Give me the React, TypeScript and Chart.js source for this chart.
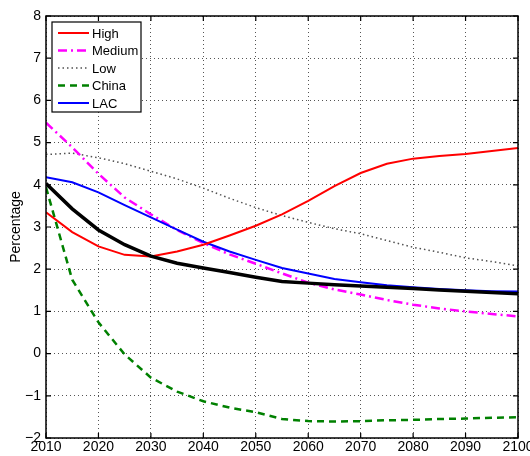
import React, { useEffect, useRef } from 'react';
import { Chart, registerables } from 'chart.js';

Chart.register(...registerables);

const years = [2010, 2015, 2020, 2025, 2030, 2035, 2040, 2045, 2050, 2055, 2060, 2065, 2070, 2075, 2080, 2085, 2090, 2095, 2100];
const high = [3.35, 2.88, 2.54, 2.34, 2.3, 2.42, 2.58, 2.8, 3.03, 3.3, 3.62, 3.97, 4.28, 4.5, 4.62, 4.68, 4.73, 4.8, 4.87];
const medium = [5.47, 4.89, 4.26, 3.7, 3.3, 2.93, 2.62, 2.35, 2.13, 1.9, 1.68, 1.52, 1.4, 1.27, 1.16, 1.07, 1.0, 0.94, 0.88];
const low = [4.72, 4.75, 4.64, 4.5, 4.32, 4.14, 3.92, 3.68, 3.46, 3.27, 3.11, 2.96, 2.84, 2.68, 2.52, 2.4, 2.27, 2.18, 2.08];
const china = [3.94, 1.75, 0.74, -0.02, -0.57, -0.9, -1.13, -1.28, -1.39, -1.55, -1.6, -1.61, -1.6, -1.58, -1.57, -1.55, -1.54, -1.52, -1.51];
const lac = [4.18, 4.06, 3.82, 3.52, 3.23, 2.94, 2.65, 2.42, 2.22, 2.03, 1.9, 1.77, 1.69, 1.62, 1.57, 1.53, 1.5, 1.48, 1.47];
const average = [4.03, 3.43, 2.93, 2.58, 2.31, 2.14, 2.03, 1.92, 1.81, 1.71, 1.67, 1.63, 1.6, 1.57, 1.54, 1.51, 1.48, 1.45, 1.42];

const xTickValues = [2010, 2020, 2030, 2040, 2050, 2060, 2070, 2080, 2090, 2100];
const yTickValues = [-2, -1, 0, 1, 2, 3, 4, 5, 6, 7, 8];
const legendLabels = ['High', 'Medium', 'Low', 'China', 'LAC'];
const yTitle = 'Percentage';

const FONT = "'Liberation Sans', Arial, Helvetica, sans-serif";

const toPoints = (vals: number[]) => vals.map((v, i) => ({ x: years[i], y: v }));

const framePlugin = {
  id: 'matlabFrame',
  afterDatasetsDraw(chart: any) {
    const { ctx, chartArea, scales } = chart;
    const { left, right, top, bottom } = chartArea;
    const xs = scales.x;
    const ys = scales.y;
    ctx.save();
    ctx.strokeStyle = '#000';
    ctx.lineWidth = 1.5;
    ctx.setLineDash([]);
    ctx.strokeRect(left, top, right - left, bottom - top);
    ctx.lineWidth = 1.2;
    const tl = 5;
    ctx.beginPath();
    xTickValues.forEach((v) => {
      const px = xs.getPixelForValue(v);
      ctx.moveTo(px, bottom);
      ctx.lineTo(px, bottom - tl);
      ctx.moveTo(px, top);
      ctx.lineTo(px, top + tl);
    });
    yTickValues.forEach((v) => {
      const py = ys.getPixelForValue(v);
      ctx.moveTo(left, py);
      ctx.lineTo(left + tl, py);
      ctx.moveTo(right, py);
      ctx.lineTo(right - tl, py);
    });
    ctx.stroke();

    // legend
    const bx = left + 6;
    const by = top + 6;
    const bw = 89;
    const bh = 90;
    ctx.fillStyle = '#fff';
    ctx.fillRect(bx, by, bw, bh);
    ctx.lineWidth = 1.2;
    ctx.strokeStyle = '#000';
    ctx.strokeRect(bx, by, bw, bh);
    ctx.font = `13px ${FONT}`;
    ctx.textBaseline = 'middle';
    ctx.textAlign = 'left';
    legendLabels.forEach((lab, i) => {
      const ds = chart.data.datasets.find((d: any) => d.label === lab);
      if (!ds) return;
      const cy = by + 11 + i * 17.5;
      ctx.strokeStyle = ds.borderColor;
      ctx.lineWidth = Math.min(ds.borderWidth, 2.5);
      ctx.setLineDash(ds.borderDash || []);
      ctx.beginPath();
      ctx.moveTo(bx + 6, cy);
      ctx.lineTo(bx + 37, cy);
      ctx.stroke();
      ctx.setLineDash([]);
      ctx.fillStyle = '#000';
      ctx.fillText(lab, bx + 40, cy + 1);
    });
    ctx.restore();
  },
};

export default function App() {
  const ref = useRef<HTMLCanvasElement | null>(null);

  useEffect(() => {
    document.body.style.margin = '0';
    const canvas = ref.current;
    if (!canvas) return;
    const chart = new Chart(canvas, {
      type: 'line',
      data: {
        datasets: [
          { label: 'Average', data: toPoints(average), borderColor: '#000000', borderWidth: 3.5, pointRadius: 0, tension: 0 },
          { label: 'High', data: toPoints(high), borderColor: '#ff0000', borderWidth: 2, pointRadius: 0, tension: 0 },
          { label: 'LAC', data: toPoints(lac), borderColor: '#0000ff', borderWidth: 2, pointRadius: 0, tension: 0 },
          { label: 'Medium', data: toPoints(medium), borderColor: '#ff00ff', borderWidth: 2.5, borderDash: [9, 4, 2, 4], pointRadius: 0, tension: 0 },
          { label: 'China', data: toPoints(china), borderColor: '#008000', borderWidth: 2.5, borderDash: [7, 5], pointRadius: 0, tension: 0 },
          { label: 'Low', data: toPoints(low), borderColor: '#505050', borderWidth: 1.5, borderDash: [1.5, 3], pointRadius: 0, tension: 0 },
        ],
      },
      options: {
        animation: false,
        responsive: false,
        maintainAspectRatio: false,
        devicePixelRatio: 1,
        layout: { padding: { top: 16, right: 12, left: 0, bottom: 0 } },
        plugins: { legend: { display: false }, tooltip: { enabled: false } },
        scales: {
          x: {
            type: 'linear',
            min: 2010,
            max: 2100,
            afterBuildTicks: (scale: any) => {
              scale.ticks = xTickValues.map((v) => ({ value: v }));
            },
            afterFit: (scale: any) => {
              scale.height = 18;
              scale.paddingLeft = 0;
              scale.paddingRight = 0;
            },
            ticks: {
              autoSkip: false,
              maxRotation: 0,
              padding: 1,
              color: '#000',
              font: { family: FONT, size: 14 },
              callback: (v: any) => String(v),
            },
            grid: { color: '#555', lineWidth: 1, drawTicks: false },
            border: { display: false, dash: [1, 3] },
          },
          y: {
            type: 'linear',
            min: -2,
            max: 8,
            afterBuildTicks: (scale: any) => {
              scale.ticks = yTickValues.map((v) => ({ value: v }));
            },
            afterFit: (scale: any) => {
              scale.width = 46;
              scale.paddingTop = 0;
              scale.paddingBottom = 0;
            },
            ticks: {
              autoSkip: false,
              padding: 5,
              color: '#000',
              font: { family: FONT, size: 14 },
              callback: (v: any) => (v < 0 ? '\u2212' + Math.abs(v) : String(v)),
            },
            grid: { color: '#555', lineWidth: 1, drawTicks: false },
            border: { display: false, dash: [1, 3] },
            title: {
              display: true,
              text: yTitle,
              color: '#000',
              font: { family: FONT, size: 14 },
              padding: { top: 8, bottom: 0 },
            },
          },
        },
      },
      plugins: [framePlugin],
    } as any);
    return () => chart.destroy();
  }, []);

  return (
    <div style={{ width: 530, height: 456 }}>
      <canvas ref={ref} width={530} height={456} style={{ display: 'block', width: 530, height: 456 }} />
    </div>
  );
}
